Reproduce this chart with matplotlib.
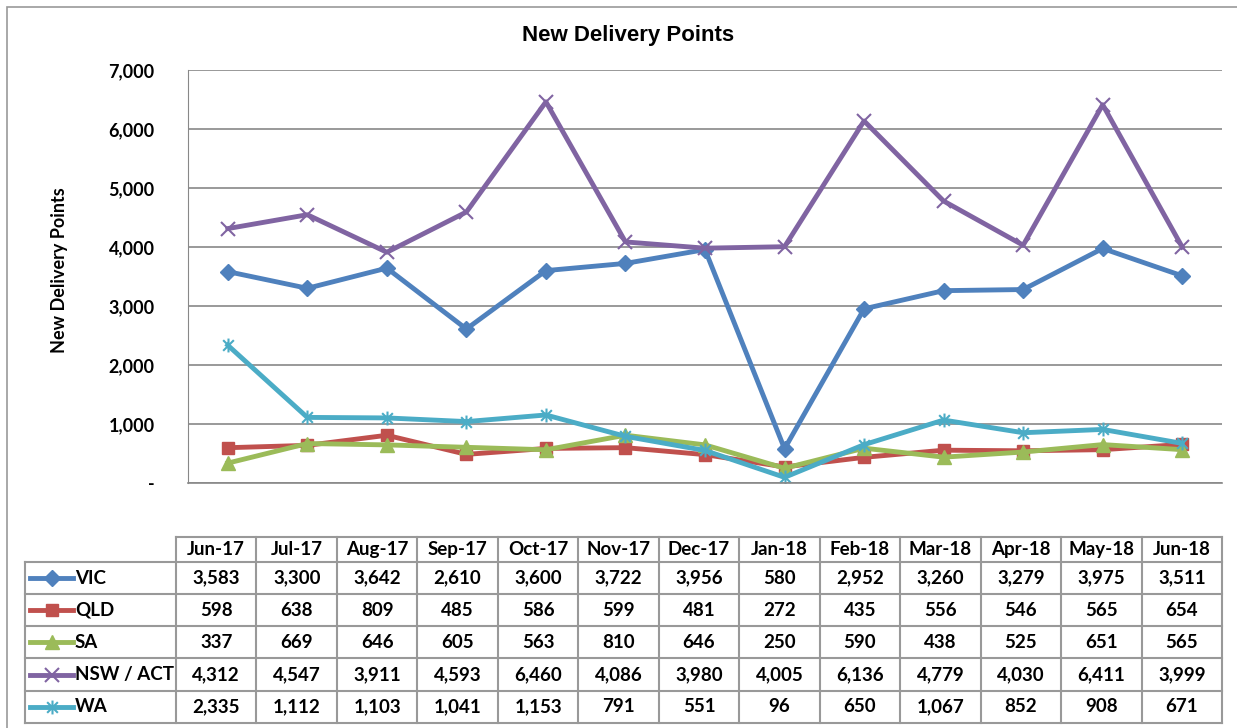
import matplotlib
matplotlib.use("Agg")
import matplotlib.pyplot as plt
import numpy as np
from matplotlib.path import Path
from matplotlib.patches import Rectangle
from matplotlib.lines import Line2D

months = ["Jun-17", "Jul-17", "Aug-17", "Sep-17", "Oct-17", "Nov-17", "Dec-17",
          "Jan-18", "Feb-18", "Mar-18", "Apr-18", "May-18", "Jun-18"]
vic = [3583, 3300, 3642, 2610, 3600, 3722, 3956, 580, 2952, 3260, 3279, 3975, 3511]
qld = [598, 638, 809, 485, 586, 599, 481, 272, 435, 556, 546, 565, 654]
sa = [337, 669, 646, 605, 563, 810, 646, 250, 590, 438, 525, 651, 565]
nsw = [4312, 4547, 3911, 4593, 6460, 4086, 3980, 4005, 6136, 4779, 4030, 6411, 3999]
wa = [2335, 1112, 1103, 1041, 1153, 791, 551, 96, 650, 1067, 852, 908, 671]
names = ["VIC", "QLD", "SA", "NSW / ACT", "WA"]

# asterisk marker like Excel's
star = Path([(-1, -1), (1, 1), (-1, 1), (1, -1), (0, -1.3), (0, 1.3)],
            [Path.MOVETO, Path.LINETO, Path.MOVETO, Path.LINETO, Path.MOVETO, Path.LINETO])

styles = [
    dict(color="#4F81BD", marker="D", ms=8),
    dict(color="#C0504D", marker="s", ms=9),
    dict(color="#9BBB59", marker="^", ms=10),
    dict(color="#8064A2", marker="x", ms=10, mew=1.5),
    dict(color="#4BACC6", marker=star, ms=10, mew=1.5),
]
series = [vic, qld, sa, nsw, wa]

W, H = 1237, 728
fig = plt.figure(figsize=(W / 100, H / 100), dpi=100)
font = "Lato"
fs = 13.5


def fx(x):
    return x / W


def fy(y):
    return 1 - y / H


# outer chart frame
fig.patches.append(Rectangle((fx(7), fy(740)), fx(1240) - fx(7), fy(7) - fy(740),
                             transform=fig.transFigure, fill=False, ec="#999999", lw=1.2))

ax = fig.add_axes([fx(188), fy(483), fx(1222) - fx(188), fy(70) - fy(483)])
x = np.arange(len(months))
for data, st in zip(series, styles):
    ax.plot(x, data, lw=3.5, **st)

ax.set_xlim(-0.5, len(months) - 0.5)
ax.set_ylim(0, 7000)
ax.set_yticks(np.arange(0, 7001, 1000))
ax.set_yticklabels(["-"] + [f"{v:,}" for v in range(1000, 7001, 1000)],
                   fontfamily=font, fontweight="bold", fontsize=13)
ax.tick_params(axis="y", length=0, pad=24)
ax.set_xticks([])
ax.grid(axis="y", color="#888888", lw=1.2)
ax.set_axisbelow(True)
for s in ["top", "right"]:
    ax.spines[s].set_visible(False)
ax.spines["left"].set_color("#888888")
ax.spines["bottom"].set_color("#888888")
ax.spines["bottom"].set_linewidth(1.2)

fig.text(fx(628), fy(36), "New Delivery Points", ha="center", va="center",
         fontfamily="Liberation Sans", fontweight="bold", fontsize=16)
fig.text(fx(60), fy(270), "New Delivery Points", ha="center", va="center",
         rotation=90, fontfamily=font, fontweight="bold", fontsize=13)

# data table
col_edges = np.linspace(176, 1222, len(months) + 1)
row_edges = [537, 562, 594, 626, 658, 691, 723]
lab_left = 25
grid_c = "#999999"


def hline(y, x0, x1):
    fig.add_artist(Line2D([fx(x0), fx(x1)], [fy(y), fy(y)], color=grid_c, lw=1.5))


def vline(xp, y0, y1):
    fig.add_artist(Line2D([fx(xp), fx(xp)], [fy(y0), fy(y1)], color=grid_c, lw=1.5))


hline(row_edges[0], col_edges[0], col_edges[-1])
for y in row_edges[1:]:
    hline(y, lab_left, col_edges[-1])
for xp in col_edges:
    vline(xp, row_edges[0], row_edges[-1])
vline(lab_left, row_edges[1], row_edges[-1])

for j, m in enumerate(months):
    cx = (col_edges[j] + col_edges[j + 1]) / 2
    cy = (row_edges[0] + row_edges[1]) / 2
    fig.text(fx(cx), fy(cy), m, ha="center", va="center",
             fontfamily=font, fontweight="bold", fontsize=fs)

for i, (name, data, st) in enumerate(zip(names, series, styles)):
    cy = (row_edges[i + 1] + row_edges[i + 2]) / 2
    fig.add_artist(Line2D([fx(30), fx(51.5), fx(73)], [fy(cy)] * 3, lw=3.5,
                          markevery=[1], **st))
    fig.text(fx(75), fy(cy), name, ha="left", va="center",
             fontfamily=font, fontweight="bold", fontsize=fs)
    for j, v in enumerate(data):
        cx = (col_edges[j] + col_edges[j + 1]) / 2
        fig.text(fx(cx), fy(cy), f"{v:,}", ha="center", va="center",
                 fontfamily=font, fontweight="bold", fontsize=fs)

fig.savefig("out.png", dpi=100)
